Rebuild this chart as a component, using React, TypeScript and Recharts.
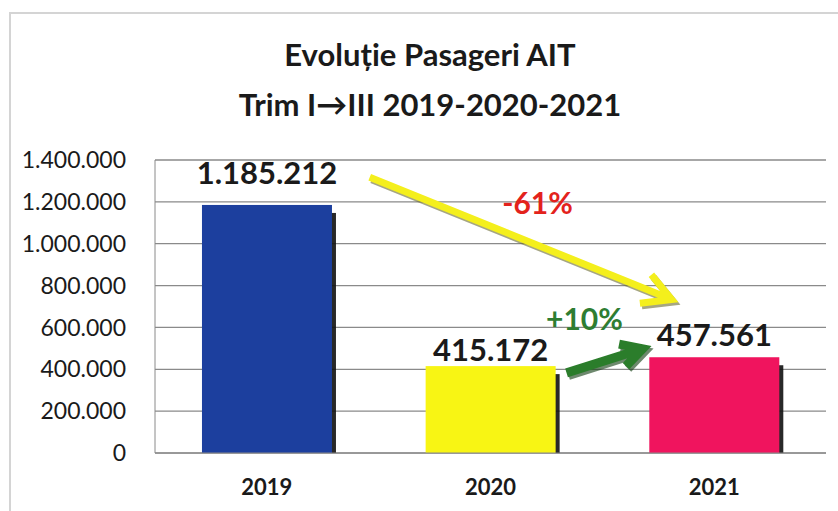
import React from "react";
import { BarChart, Bar, Cell, XAxis, YAxis, CartesianGrid, ReferenceLine, ReferenceDot } from "recharts";

const years = ["2019", "2020", "2021"];
const passengers = [1185212, 415172, 457561];
const yTicks = [0, 200000, 400000, 600000, 800000, 1000000, 1200000, 1400000];
const barColors = ["#1c3f9e", "#f8f514", "#f0145e"];
const changeLabels = ["-61%", "+10%"];

// gap between bar top and its value label (hand placed in the original)
const labelGap = [21, 5, 11];

const data = years.map((year, i) => ({ year, value: passengers[i] }));

const FONT = "Lato, 'Open Sans', sans-serif";

const fmt = (n: number) => n.toString().replace(/\B(?=(\d{3})+(?!\d))/g, ".");

const ShadowBar = (props: any) => {
  const { x, y, width, height, fill } = props;
  if (!height) return null;
  return (
    <g>
      <rect x={x + 4} y={y + 8} width={width} height={height - 8} fill="#111" opacity={0.9} />
      <rect x={x} y={y} width={width} height={height} fill={fill} />
    </g>
  );
};

// segment is drawn between two category centres; s/e shift the ends in band units
const makeArrow = (color: string, shadow: string, w: number, arm: number, s: number, e: number, span: number) => (props: any) => {
  const band = (props.x2 - props.x1) / span;
  const x1 = props.x1 + s * band;
  const x2 = props.x2 + e * band;
  const { y1, y2 } = props;
  const ang = Math.atan2(y2 - y1, x2 - x1);
  const spread = 0.5;
  const a1x = x2 - arm * Math.cos(ang - spread);
  const a1y = y2 - arm * Math.sin(ang - spread);
  const a2x = x2 - arm * Math.cos(ang + spread);
  const a2y = y2 - arm * Math.sin(ang + spread);
  const d = `M${x1},${y1} L${x2},${y2} M${a1x},${a1y} L${x2},${y2} L${a2x},${a2y}`;
  return (
    <g>
      <path d={d} transform="translate(2,2.5)" stroke={shadow} strokeWidth={w} fill="none" strokeLinejoin="miter" opacity={0.6} />
      <path d={d} stroke={color} strokeWidth={w} fill="none" strokeLinejoin="miter" />
    </g>
  );
};

const BAND = 223.7;

const changeText = (text: string, color: string, size: number, dx: number) => (props: any) => (
  <text x={props.cx + dx * BAND} y={props.cy} textAnchor="middle" dominantBaseline="central"
    fontFamily={FONT} fontWeight={700} fontSize={size} fill={color}>
    {text}
  </text>
);

const ValueLabel = (props: any) => {
  const { x, y, width, value, index } = props;
  return (
    <text x={x + width / 2} y={y - labelGap[index]} textAnchor="middle"
      fontFamily={FONT} fontWeight={700} fontSize={31} fill="#1a1a1a">
      {fmt(value)}
    </text>
  );
};

const App = () => {
  return (
    <div style={{ position: "fixed", left: 0, top: 0, width: 838, height: 511, background: "#fff", overflow: "hidden" }}>
      <div style={{ position: "absolute", left: 9, top: 12, width: 840, height: 520, borderTop: "2px solid #d4d4d4", borderLeft: "2px solid #d4d4d4" }} />
      <div style={{ position: "absolute", left: 0, top: 29, width: 860, textAlign: "center", fontFamily: FONT, fontWeight: 700, fontSize: 31, color: "#1a1a1a", lineHeight: "50px" }}>
        <div>Evoluție Pasageri AIT</div>
        <div>Trim I→III 2019-2020-2021</div>
      </div>
      <div style={{ position: "absolute", left: 0, top: 0 }}>
        <BarChart width={838} height={511} data={data} margin={{ top: 160, right: 12, bottom: 8, left: 10 }} barCategoryGap="21%">
          <CartesianGrid vertical={false} stroke="#8a8a8a" strokeWidth={1.3} />
          <XAxis dataKey="year" height={50} tickSize={0} tickMargin={26} stroke="#8a8a8a"
            tick={{ fontFamily: FONT, fontWeight: 700, fontSize: 22, fill: "#1a1a1a" }} />
          <YAxis width={145} domain={[0, 1400000]} ticks={yTicks} tickFormatter={fmt} tickSize={0} tickMargin={29}
            stroke="#8a8a8a" tick={{ fontFamily: FONT, fontSize: 23, fill: "#1a1a1a" }} />
          <Bar dataKey="value" shape={<ShadowBar />} label={<ValueLabel />} isAnimationActive={false}>
            {data.map((d, i) => (
              <Cell key={d.year} fill={barColors[i]} />
            ))}
          </Bar>
          <ReferenceLine ifOverflow="visible" segment={[{ x: "2019", y: 1318000 }, { x: "2021", y: 733000 }]}
            shape={makeArrow("#f4ef1c", "#6b6a30", 7, 32, 0.46, -0.19, 2)} />
          <ReferenceLine ifOverflow="visible" segment={[{ x: "2020", y: 383000 }, { x: "2021", y: 498000 }]}
            shape={makeArrow("#2b7d2b", "#0d3a0d", 9, 24, 0.34, -0.32, 1)} />
          <ReferenceDot ifOverflow="visible" x="2020" y={1198000} r={0} shape={changeText(changeLabels[0], "#e3221c", 30, 0.21)} />
          <ReferenceDot ifOverflow="visible" x="2020" y={647000} r={0} shape={changeText(changeLabels[1], "#2e7d32", 30, 0.42)} />
        </BarChart>
      </div>
    </div>
  );
};

export default App;
